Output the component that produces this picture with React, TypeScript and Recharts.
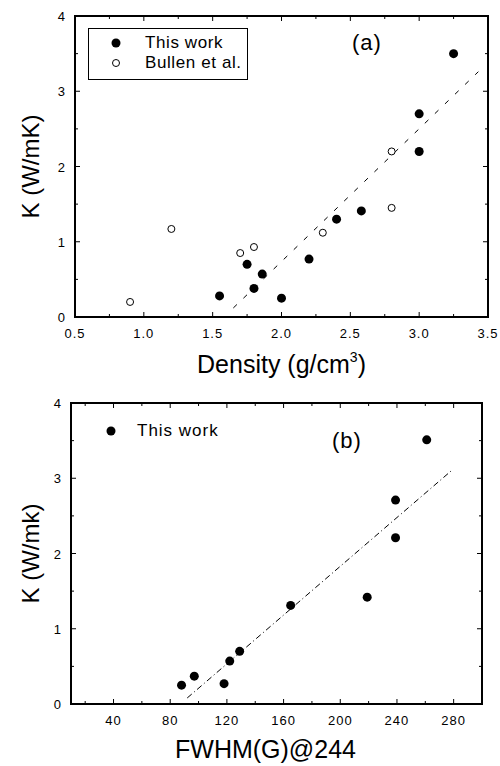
import React from 'react';
import { ScatterChart, Scatter, XAxis, YAxis, Legend, ReferenceArea } from 'recharts';

// panel (a): K vs density
const densityThisWork = [1.55, 1.75, 1.8, 1.86, 2.0, 2.2, 2.4, 2.58, 3.0, 3.0, 3.25];
const kThisWork = [0.28, 0.7, 0.38, 0.57, 0.25, 0.77, 1.3, 1.41, 2.7, 2.2, 3.5];
const densityBullen = [0.9, 1.2, 1.7, 1.8, 2.3, 2.8, 2.8];
const kBullen = [0.2, 1.17, 0.85, 0.93, 1.12, 1.45, 2.2];
const densityFit = [1.65, 3.43];
const densityFitK = [0.12, 3.26];

// panel (b): K vs FWHM(G)
const fwhmThisWork = [88, 97, 118, 122, 129, 165, 219, 239, 239, 261];
const kFwhm = [0.25, 0.37, 0.27, 0.57, 0.7, 1.31, 1.42, 2.71, 2.21, 3.51];
const fwhmFit = [92, 279];
const fwhmFitK = [0.08, 3.11];

// ticks (minor ticks carry no label)
const densityTicks = [0.5, 0.75, 1.0, 1.25, 1.5, 1.75, 2.0, 2.25, 2.5, 2.75, 3.0, 3.25, 3.5];
const fwhmTicks = [20, 40, 60, 80, 100, 120, 140, 160, 180, 200, 220, 240, 260, 280];
const kTicks = [0, 0.5, 1, 1.5, 2, 2.5, 3, 3.5, 4];

const legendOrder = ['This work', 'Bullen et al.'];

const FONT = 'Arial, "Liberation Sans", sans-serif';
const axisLine = { stroke: '#000', strokeWidth: 1.5 };

const toPoints = (xs: number[], ys: number[]) => xs.map((x, i) => ({ x, y: ys[i] }));
const densityThisWorkPts = toPoints(densityThisWork, kThisWork);
const densityBullenPts = toPoints(densityBullen, kBullen);
const densityFitPts = toPoints(densityFit, densityFitK);
const fwhmThisWorkPts = toPoints(fwhmThisWork, kFwhm);
const fwhmFitPts = toPoints(fwhmFit, fwhmFitK);

const isMajor = (v: number, step: number) => Math.abs(v / step - Math.round(v / step)) < 1e-6;

const bottomTick = (step: number, digits: number) => (p: any) => {
  const v = p.payload.value;
  const major = isMajor(v, step);
  return (
    <g>
      <line x1={p.x} x2={p.x} y1={p.y} y2={p.y - (major ? 5 : 3)} stroke="#000" />
      {major && (
        <text x={p.x} y={p.y + 21} textAnchor="middle" fontFamily={FONT} fontSize={13} letterSpacing={1} fill="#000">
          {v.toFixed(digits)}
        </text>
      )}
    </g>
  );
};

const topTick = (step: number) => (p: any) => {
  const major = isMajor(p.payload.value, step);
  return (
    <g>
      <line x1={p.x} x2={p.x} y1={p.y} y2={p.y + (major ? 5 : 3)} stroke="#000" />
    </g>
  );
};

const LeftTick = (p: any) => {
  const v = p.payload.value;
  const major = isMajor(v, 1);
  return (
    <g>
      <line x1={p.x} x2={p.x + (major ? 5 : 3)} y1={p.y} y2={p.y} stroke="#000" />
      {major && (
        <text x={p.x - 10} y={p.y + 5} textAnchor="end" fontFamily={FONT} fontSize={13} fill="#000">
          {v}
        </text>
      )}
    </g>
  );
};

const RightTick = (p: any) => {
  const major = isMajor(p.payload.value, 1);
  return (
    <g>
      <line x1={p.x} x2={p.x - (major ? 5 : 3)} y1={p.y} y2={p.y} stroke="#000" />
    </g>
  );
};

const densityBottomTick = bottomTick(0.5, 1);
const densityTopTick = topTick(0.5);
const fwhmBottomTick = bottomTick(40, 0);
const fwhmTopTick = topTick(40);

const yTitle = (text: string) => (props: any) => {
  const vb = props.viewBox || {};
  const cx = 30;
  const cy = (vb.y || 0) + (vb.height || 0) / 2;
  return (
    <text x={cx} y={cy} transform={`rotate(-90 ${cx} ${cy})`} textAnchor="middle" dominantBaseline="central" fontFamily={FONT} fontSize={24} fill="#000">
      {text}
    </text>
  );
};
const kTitleA = yTitle('K (W/mK)');
const kTitleB = yTitle('K (W/mk)');

const densityTitle = (props: any) => {
  const vb = props.viewBox || {};
  const cx = (vb.x || 0) + (vb.width || 0) / 2;
  return (
    <text x={cx} y={(vb.y || 0) + 56} textAnchor="middle" fontFamily={FONT} fontSize={25} fill="#000">
      Density (g/cm<tspan dy={-11} fontSize={14}>3</tspan><tspan dy={11}>)</tspan>
    </text>
  );
};

const fwhmTitle = (props: any) => {
  const vb = props.viewBox || {};
  const cx = (vb.x || 0) + (vb.width || 0) / 2 - 11;
  return (
    <text x={cx} y={(vb.y || 0) + 54} textAnchor="middle" fontFamily={FONT} fontSize={25} fill="#000">
      FWHM(G)@244
    </text>
  );
};

const filledDot = (p: any) => <circle cx={p.cx} cy={p.cy} r={4.5} fill="#000" />;
const openDot = (p: any) => <circle cx={p.cx} cy={p.cy} r={3.5} fill="#fff" stroke="#000" strokeWidth={1} />;
const noDot = () => <g />;

const LegendMarker = ({ name }: { name: string }) => (
  <svg width={22} height={14} style={{ display: 'block' }}>
    {name === 'This work' ? (
      <circle cx={11} cy={7} r={4.5} fill="#000" />
    ) : (
      <circle cx={11} cy={7} r={3.5} fill="#fff" stroke="#000" />
    )}
  </svg>
);

const legendItems = (props: any) =>
  legendOrder.filter((n) => (props.payload || []).some((e: any) => e.value === n));

const boxedLegend = (props: any) => (
  <div style={{ border: '1px solid #000', boxSizing: 'border-box', width: 160, height: 52, paddingTop: 4, paddingLeft: 16, fontFamily: FONT }}>
    {legendItems(props).map((n) => (
      <div key={n} style={{ display: 'flex', alignItems: 'center', height: 20 }}>
        <LegendMarker name={n} />
        <span style={{ marginLeft: 18, fontSize: 17, letterSpacing: 0.6, lineHeight: '20px' }}>{n}</span>
      </div>
    ))}
  </div>
);

const plainLegend = (props: any) => (
  <div style={{ fontFamily: FONT }}>
    {legendItems(props).map((n) => (
      <div key={n} style={{ display: 'flex', alignItems: 'center', height: 20 }}>
        <LegendMarker name={n} />
        <span style={{ marginLeft: 15, fontSize: 17, letterSpacing: 1, lineHeight: '20px' }}>{n}</span>
      </div>
    ))}
  </div>
);

const topLegendStyle = { left: 88, top: 28, width: 160, height: 52 };
const bottomLegendStyle = { left: 100, top: 36, width: 140, height: 20 };
const fitLineA = { stroke: '#000', strokeWidth: 1, strokeDasharray: '5 9' };
const fitLineB = { stroke: '#000', strokeWidth: 1, strokeDasharray: '6 3 1 3' };

const panelLabel = (text: string, left: number, top: number) => (
  <div style={{ position: 'absolute', left, top, fontFamily: FONT, fontSize: 22, lineHeight: '22px', letterSpacing: 1 }}>{text}</div>
);

// box around the plot area (matches the chart margins + axis sizes below)
const plotFrame = (left: number, top: number, width: number, height: number) => (
  <div style={{ position: 'absolute', left, top, width, height, border: '2px solid #000', boxSizing: 'border-box', pointerEvents: 'none' }} />
);

function DensityChart() {
  return (
    <div style={{ position: 'relative', width: 500, height: 385 }}>
      <ScatterChart width={500} height={385} margin={{ top: 6, right: 2, bottom: 0, left: 0 }}>
        <XAxis xAxisId="b" type="number" dataKey="x" domain={[0.5, 3.5]} allowDataOverflow ticks={densityTicks} interval={0}
          height={68} tickSize={0} tickMargin={0} tickLine={false} axisLine={axisLine}
          tick={densityBottomTick} label={densityTitle} />
        <XAxis xAxisId="t" orientation="top" type="number" dataKey="x" domain={[0.5, 3.5]} allowDataOverflow ticks={densityTicks} interval={0}
          height={10} tickSize={0} tickMargin={0} tickLine={false} axisLine={axisLine} tick={densityTopTick} />
        <YAxis yAxisId="l" type="number" dataKey="y" domain={[0, 4]} allowDataOverflow ticks={kTicks} interval={0}
          width={75} tickSize={0} tickMargin={0} tickLine={false} axisLine={axisLine} tick={LeftTick} label={kTitleA} />
        <YAxis yAxisId="r" orientation="right" type="number" dataKey="y" domain={[0, 4]} allowDataOverflow ticks={kTicks} interval={0}
          width={10} tickSize={0} tickMargin={0} tickLine={false} axisLine={axisLine} tick={RightTick} />
        <ReferenceArea xAxisId="b" yAxisId="l" x1={0.5} x2={3.5} y1={0} y2={4} fill="none" stroke="#000" strokeWidth={1.5} />
        <Legend layout="horizontal" verticalAlign="middle" align="center" wrapperStyle={topLegendStyle} content={boxedLegend} />
        {/* fit line on the top/right axes (same domains as bottom/left) */}
        <Scatter xAxisId="t" yAxisId="r" name="fit" legendType="none" data={densityFitPts} shape={noDot}
          line={fitLineA} isAnimationActive={false} />
        <Scatter xAxisId="b" yAxisId="l" name="This work" data={densityThisWorkPts} shape={filledDot} isAnimationActive={false} />
        <Scatter xAxisId="b" yAxisId="l" name="Bullen et al." data={densityBullenPts} shape={openDot} isAnimationActive={false} />
      </ScatterChart>
      {plotFrame(74, 15, 415, 303)}
      {panelLabel('(a)', 352, 32)}
    </div>
  );
}

function FwhmChart() {
  return (
    <div style={{ position: 'relative', width: 500, height: 381 }}>
      <ScatterChart width={500} height={381} margin={{ top: 8, right: 8, bottom: 0, left: 0 }}>
        <XAxis xAxisId="b" type="number" dataKey="x" domain={[10, 300]} allowDataOverflow ticks={fwhmTicks} interval={0}
          height={62} tickSize={0} tickMargin={0} tickLine={false} axisLine={axisLine}
          tick={fwhmBottomTick} label={fwhmTitle} />
        <XAxis xAxisId="t" orientation="top" type="number" dataKey="x" domain={[10, 300]} allowDataOverflow ticks={fwhmTicks} interval={0}
          height={10} tickSize={0} tickMargin={0} tickLine={false} axisLine={axisLine} tick={fwhmTopTick} />
        <YAxis yAxisId="l" type="number" dataKey="y" domain={[0, 4]} allowDataOverflow ticks={kTicks} interval={0}
          width={71} tickSize={0} tickMargin={0} tickLine={false} axisLine={axisLine} tick={LeftTick} label={kTitleB} />
        <YAxis yAxisId="r" orientation="right" type="number" dataKey="y" domain={[0, 4]} allowDataOverflow ticks={kTicks} interval={0}
          width={10} tickSize={0} tickMargin={0} tickLine={false} axisLine={axisLine} tick={RightTick} />
        <ReferenceArea xAxisId="b" yAxisId="l" x1={10} x2={300} y1={0} y2={4} fill="none" stroke="#000" strokeWidth={1.5} />
        <Legend layout="horizontal" verticalAlign="middle" align="center" wrapperStyle={bottomLegendStyle} content={plainLegend} />
        <Scatter xAxisId="t" yAxisId="r" name="fit" legendType="none" data={fwhmFitPts} shape={noDot}
          line={fitLineB} isAnimationActive={false} />
        <Scatter xAxisId="b" yAxisId="l" name="This work" data={fwhmThisWorkPts} shape={filledDot} isAnimationActive={false} />
      </ScatterChart>
      {plotFrame(70, 17, 413, 303)}
      {panelLabel('(b)', 332, 45)}
    </div>
  );
}

export default function App() {
  return (
    <div style={{ position: 'absolute', left: 0, top: 0, width: 500, height: 766, background: '#fff', fontFamily: FONT }}>
      <DensityChart />
      <FwhmChart />
    </div>
  );
}
